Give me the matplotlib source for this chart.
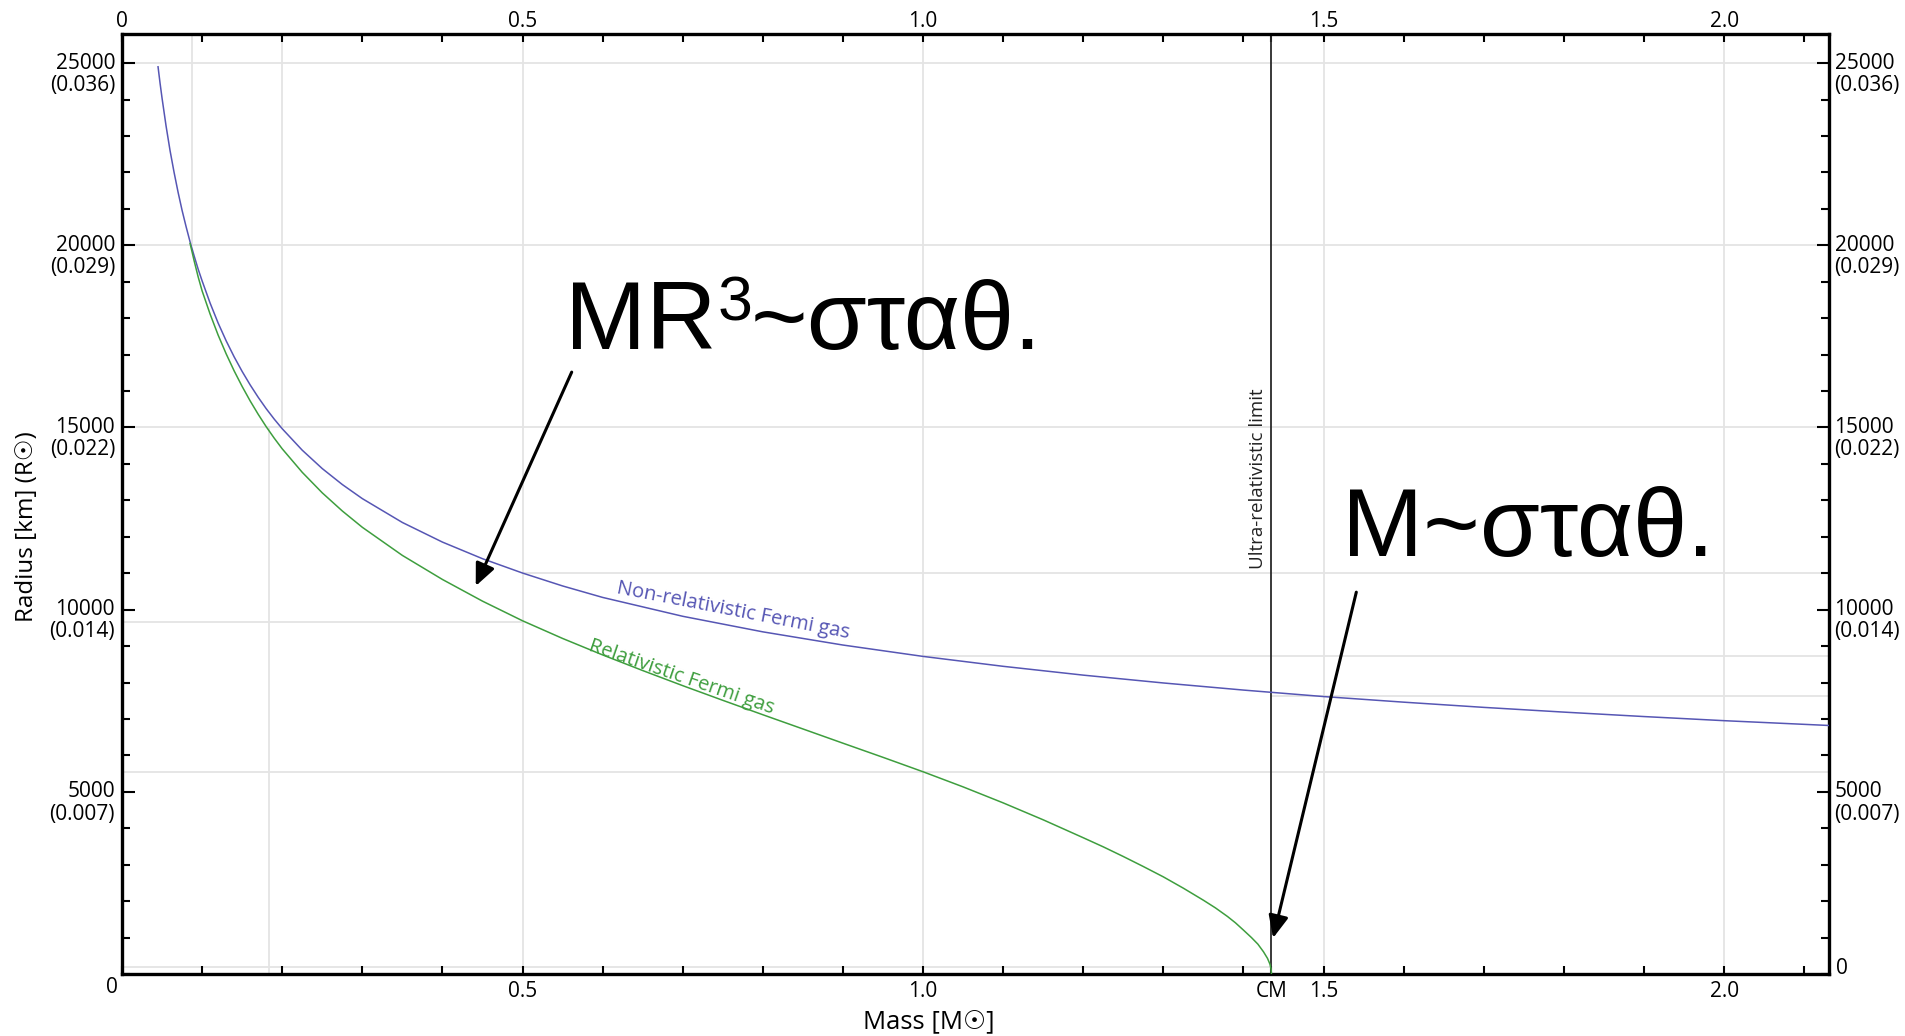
import matplotlib
matplotlib.use('Agg')
import matplotlib.pyplot as plt
from matplotlib.ticker import MultipleLocator, FixedLocator

plt.rcParams['font.family'] = ['Open Sans', 'DejaVu Sans']

# ---- data ----
mass_nonrel = [0.045, 0.0475, 0.05, 0.055, 0.06, 0.065, 0.07, 0.075, 0.08, 0.085, 0.09,
               0.095, 0.10, 0.11, 0.12, 0.13, 0.14, 0.15, 0.16, 0.17, 0.18, 0.19, 0.20,
               0.225, 0.25, 0.275, 0.30, 0.35, 0.40, 0.45, 0.50, 0.55, 0.60, 0.70, 0.80,
               0.90, 1.00, 1.10, 1.20, 1.30, 1.40, 1.50, 1.60, 1.70, 1.80, 1.90, 2.00, 2.131]
radius_nonrel = [24900, 24452, 24039, 23277, 22598, 22004, 21458, 20960, 20513, 20093, 19714,
                 19351, 19025, 18414, 17867, 17380, 16939, 16538, 16169, 15830, 15517, 15231, 14966,
                 14377, 13872, 13435, 13048, 12393, 11855, 11399, 11005, 10651, 10336, 9818, 9391,
                 9029, 8717, 8445, 8203, 7988, 7793, 7615, 7461, 7318, 7188, 7066, 6953, 6821]

mass_rel = [0.085, 0.09, 0.095, 0.10, 0.11, 0.12, 0.13, 0.14, 0.15, 0.16, 0.17, 0.18, 0.19,
            0.20, 0.225, 0.25, 0.275, 0.30, 0.35, 0.40, 0.45, 0.50, 0.55, 0.60, 0.65, 0.70,
            0.75, 0.80, 0.85, 0.90, 0.95, 1.00, 1.05, 1.10, 1.15, 1.20, 1.225, 1.25, 1.275,
            1.30, 1.325, 1.35, 1.365, 1.38, 1.39, 1.40, 1.41, 1.418, 1.425, 1.43, 1.433,
            1.4345, 1.435]
radius_rel = [20050, 19580, 19140, 18750, 18112, 17537, 17023, 16554, 16126, 15729, 15363, 15022, 14708,
              14415, 13770, 13206, 12709, 12261, 11489, 10829, 10234, 9695, 9210, 8758, 8329, 7914,
              7512, 7116, 6726, 6335, 5947, 5551, 5136, 4697, 4232, 3740, 3490, 3225, 2950,
              2666, 2355, 2025, 1815, 1580, 1405, 1205, 1000, 820, 610, 430, 275,
              140, 0]

chandrasekhar_mass = 1.435

y_tick_km = [5000, 10000, 15000, 20000, 25000]
y_tick_solar = ['(0.007)', '(0.014)', '(0.022)', '(0.029)', '(0.036)']
x_ticks_top = [0, 0.5, 1.0, 1.5, 2.0]
x_labels_top = ['0', '0.5', '1.0', '1.5', '2.0']
x_ticks_bottom = [0.5, 1.0, chandrasekhar_mass, 1.5, 2.0]
x_labels_bottom = ['0.5', '1.0', 'CM', '1.5', '2.0']

blue = '#5656b4'
green = '#3e9e3e'
grid_c = '#e4e4e4'
FS = 15

fig = plt.figure(figsize=(19.05, 10.36), dpi=100)
ax = fig.add_axes([122/1905, 1-974/1036, (1829-122)/1905, (974-34)/1036])
ax.set_xlim(0, 2.131)
ax.set_ylim(0, 25800)

# grid (pieces as in the original)
gkw = dict(color=grid_c, lw=1.3, zorder=0)
for yv in [25000, 20000, 15000, 5540]:
    ax.axhline(yv, **gkw)
ax.plot([0.5, 2.131], [11000, 11000], **gkw)
ax.plot([0, 0.5], [9660, 9660], **gkw)
ax.plot([1.0, 2.131], [8720, 8720], **gkw)
ax.plot([chandrasekhar_mass, 2.131], [7630, 7630], **gkw)
ax.plot([0, chandrasekhar_mass], [190, 190], **gkw)
for xv in [0.5, 1.0, 1.5, 2.0]:
    ax.axvline(xv, **gkw)
ax.plot([0.2, 0.2], [15000, 25800], **gkw)
ax.plot([0.184, 0.184], [0, 15000], **gkw)
ax.plot([0.087, 0.087], [20000, 25800], **gkw)

# curves
ax.plot(mass_nonrel, radius_nonrel, color=blue, lw=1.1, zorder=3)
ax.plot(mass_rel, radius_rel, color=green, lw=1.1, zorder=3)
ax.axvline(chandrasekhar_mass, color='#2a2a2a', lw=1.3, zorder=2)

# ticks
ax.xaxis.set_major_locator(FixedLocator(x_ticks_bottom))
ax.set_xticklabels(x_labels_bottom)
ax.xaxis.set_minor_locator(MultipleLocator(0.1))
ax.yaxis.set_major_locator(FixedLocator(y_tick_km))
ax.yaxis.set_minor_locator(MultipleLocator(1000))
ax.tick_params(axis='x', which='both', direction='in', top=True, bottom=True,
               length=6, width=1.5, labelsize=FS, pad=5)
ax.tick_params(axis='y', which='major', direction='in', left=True, right=True,
               length=9, width=1.5, labelleft=False)
ax.tick_params(axis='y', which='minor', direction='in', left=True, right=True,
               length=6, width=1.5)
for s in ax.spines.values():
    s.set_linewidth(2.4)

# y tick labels (two lines), both sides
for v, sol in zip(y_tick_km, y_tick_solar):
    for xa, dx, ha in [(0, -5, 'right'), (1, 4, 'left')]:
        ax.annotate(str(v), xy=(xa, v), xycoords=('axes fraction', 'data'),
                    xytext=(dx, 0), textcoords='offset points', ha=ha, va='center',
                    fontsize=FS)
        ax.annotate(sol, xy=(xa, v), xycoords=('axes fraction', 'data'),
                    xytext=(dx, -16), textcoords='offset points', ha=ha, va='center',
                    fontsize=FS)
# zero labels
ax.annotate('0', xy=(0, 0), xycoords='axes fraction', xytext=(-7, -10),
            textcoords='offset points', ha='center', va='center', fontsize=FS)
ax.annotate('0', xy=(1, 0), xycoords='axes fraction', xytext=(9, 4),
            textcoords='offset points', ha='center', va='center', fontsize=FS)
# top labels
for xv, lab in zip(x_ticks_top, x_labels_top):
    ax.annotate(lab, xy=(xv, 1), xycoords=('data', 'axes fraction'),
                xytext=(0, 5), textcoords='offset points', ha='center', va='baseline',
                fontsize=FS)

# axis labels
fig.text(27/1905, 1-527/1036, 'Radius [km] (R☉)', rotation=90, ha='center',
         va='center', fontsize=17.5)
fig.text(929/1905, 1-1022/1036, 'Mass [M☉]', ha='center', va='center', fontsize=18.5)

# curve labels
ax.text(0.762, 9830, 'Non-relativistic Fermi gas', color=blue, fontsize=14.5,
        rotation=-11, rotation_mode='anchor', ha='center', va='baseline')
ax.text(0.696, 8020, 'Relativistic Fermi gas', color=green, fontsize=14.5,
        rotation=-19, rotation_mode='anchor', ha='center', va='baseline')
ax.annotate('Ultra-relativistic limit', xy=(chandrasekhar_mass, 11114), xycoords='data',
            xytext=(-3, 0), textcoords='offset points', rotation=90,
            rotation_mode='anchor', ha='left', va='bottom', fontsize=13.5, color='#222222')

# big annotations: "MR" + superscript "3" + "~σταθ."
renderer = fig.canvas.get_renderer()
big = dict(family='Liberation Sans', ha='left', va='baseline')
anchor = (0.5527, 17150)
t1 = ax.text(anchor[0], anchor[1], 'MR', fontsize=70, **big)
w1 = t1.get_window_extent(renderer).width
t2 = ax.annotate('3', xy=anchor, xycoords='data', xytext=(w1 + 1, 29),
                 textcoords='offset pixels', fontsize=45, **big)
w2 = t2.get_window_extent(renderer).width
ax.annotate('~σταθ.', xy=anchor, xycoords='data', xytext=(w1 + w2, 0),
            textcoords='offset pixels', fontsize=70, **big)
ax.text(1.523, 11470, 'M~σταθ.', fontsize=70, **big)

akw = dict(arrowstyle='-|>,head_length=0.45,head_width=0.2', color='black', lw=2.2,
           mutation_scale=30, shrinkA=0, shrinkB=0)
ax.annotate('', xy=(0.4416, 10650), xytext=(0.5614, 16520), arrowprops=akw)
ax.annotate('', xy=(1.437, 988), xytext=(1.5409, 10480), arrowprops=akw)

fig.savefig('out.png', dpi=100)
